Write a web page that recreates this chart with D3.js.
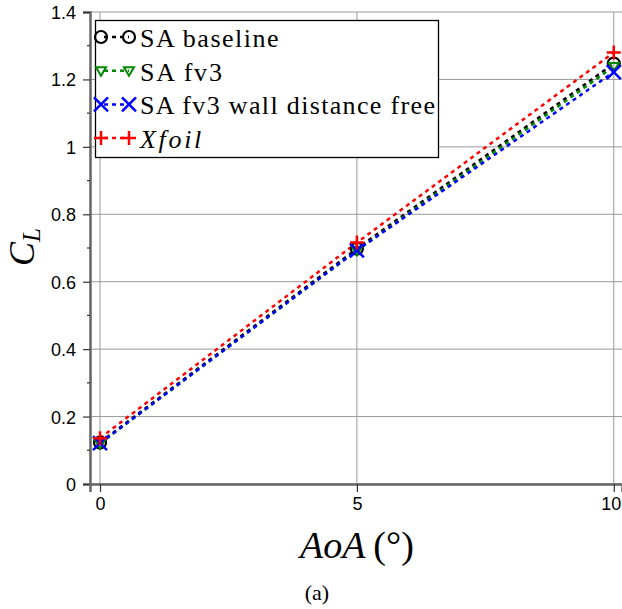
<!DOCTYPE html>
<html>
<head>
<meta charset="utf-8">
<script src="https://cdn.jsdelivr.net/npm/d3@7"></script>
<style>
  body { margin: 0; background: #fff; }
  svg { display: block; }
</style>
</head>
<body>
<div id="chart"></div>
<script>
const aoa = [0, 5, 10];
const saBaseline = [0.123, 0.698, 1.247];
const saFv3 = [0.12, 0.693, 1.238];
const saFv3Wdf = [0.121, 0.693, 1.222];
const xfoil = [0.136, 0.716, 1.28];
const yTicks = [0, 0.2, 0.4, 0.6, 0.8, 1, 1.2, 1.4];
const xTicks = [0, 5, 10];

const series = [
  { name: "SA baseline", values: saBaseline, color: "#000", marker: "circle" },
  { name: "SA fv3", values: saFv3, color: "#008800", marker: "tri" },
  { name: "SA fv3 wall distance free", values: saFv3Wdf, color: "#0000ff", marker: "x" },
  { name: "Xfoil", values: xfoil, color: "#ff0000", marker: "plus", italic: true },
];

const SERIF = "'Liberation Serif', 'Times New Roman', serif";
const SANS = "'Liberation Sans', Arial, sans-serif";

const width = 622, height = 609;
const margin = { top: 12, right: 0, bottom: 125, left: 90 };

const svg = d3.select("#chart").append("svg")
  .attr("width", width).attr("height", height);

const x = d3.scaleLinear().domain([-0.195, 10.16]).range([margin.left, width - margin.right]);
const y = d3.scaleLinear().domain([0, 1.4]).range([height - margin.bottom, margin.top]);

// grid
svg.append("g")
  .selectAll("line")
  .data(yTicks)
  .join("line")
  .attr("x1", margin.left).attr("x2", width)
  .attr("y1", (d) => y(d)).attr("y2", (d) => y(d))
  .attr("stroke", "#999").attr("stroke-width", 1);

svg.append("g")
  .selectAll("line")
  .data(xTicks)
  .join("line")
  .attr("x1", (d) => x(d)).attr("x2", (d) => x(d))
  .attr("y1", y(1.4)).attr("y2", y(0))
  .attr("stroke", "#999").attr("stroke-width", 1);

// axes
const axisY = svg.append("g")
  .attr("transform", `translate(${margin.left},0)`)
  .call(d3.axisLeft(y).tickValues(yTicks).tickSize(7).tickPadding(7)
    .tickFormat((d) => d3.format("~g")(d)));
axisY.select(".domain").attr("stroke", "#666").attr("stroke-width", 2.5);
axisY.selectAll(".tick line").attr("stroke", "#333").attr("stroke-width", 1.2);
axisY.selectAll(".tick text")
  .attr("font-family", SANS).attr("font-size", 18).attr("fill", "#000").attr("dy", "0.36em");

svg.append("g")
  .selectAll("line")
  .data(d3.range(1, 14, 2).map((d) => d / 10))
  .join("line")
  .attr("x1", margin.left - 3).attr("x2", margin.left)
  .attr("y1", (d) => y(d)).attr("y2", (d) => y(d))
  .attr("stroke", "#333").attr("stroke-width", 1.2);

const axisX = svg.append("g")
  .attr("transform", `translate(0,${y(0)})`)
  .call(d3.axisBottom(x).tickValues(xTicks).tickSize(8).tickPadding(5));
axisX.select(".domain").attr("stroke", "#666").attr("stroke-width", 2.5);
axisX.selectAll(".tick line").attr("stroke", "#333").attr("stroke-width", 1.2);
axisX.selectAll(".tick text")
  .attr("font-family", SANS).attr("font-size", 18).attr("fill", "#000")
  .attr("dx", (d) => (d === 10 ? -3 : 0));

// markers
function drawMarker(g, type, cx, cy, color) {
  if (type === "circle") {
    g.append("circle").attr("cx", cx).attr("cy", cy).attr("r", 6)
      .attr("fill", "none").attr("stroke", color).attr("stroke-width", 2.2);
  } else if (type === "tri") {
    g.append("path")
      .attr("d", `M${cx - 5},${cy - 3.5}L${cx + 5},${cy - 3.5}L${cx},${cy + 5}Z`)
      .attr("fill", "none").attr("stroke", color).attr("stroke-width", 2);
  } else if (type === "x") {
    const s = 7;
    g.append("path")
      .attr("d", `M${cx - s},${cy - s}L${cx + s},${cy + s}M${cx - s},${cy + s}L${cx + s},${cy - s}`)
      .attr("stroke", color).attr("stroke-width", 2.5);
  } else {
    const s = 7;
    g.append("path")
      .attr("d", `M${cx - s},${cy}L${cx + s},${cy}M${cx},${cy - s}L${cx},${cy + s}`)
      .attr("stroke", color).attr("stroke-width", 2.5);
  }
}

const line = d3.line().x((d) => x(d[0])).y((d) => y(d[1]));

series.forEach((s) => {
  const pts = aoa.map((a, i) => [a, s.values[i]]);
  svg.append("path")
    .datum(pts)
    .attr("d", line)
    .attr("fill", "none")
    .attr("stroke", s.color)
    .attr("stroke-width", 2.5)
    .attr("stroke-dasharray", "4,4");
});

series.forEach((s) => {
  const g = svg.append("g");
  aoa.forEach((a, i) => drawMarker(g, s.marker, x(a), y(s.values[i]), s.color));
});

// legend
const legend = svg.append("g");
legend.append("rect")
  .attr("x", 95.5).attr("y", 20.5).attr("width", 343).attr("height", 137)
  .attr("fill", "#fff").attr("stroke", "#000").attr("stroke-width", 1.3);

const legendTexts = series.map((s, i) => {
  const cy = 37 + i * 33.7;
  legend.append("line")
    .attr("x1", 101).attr("x2", 129).attr("y1", cy).attr("y2", cy)
    .attr("stroke", s.color).attr("stroke-width", 2.5).attr("stroke-dasharray", "4,4")
    .attr("stroke-dashoffset", -3);
  drawMarker(legend, s.marker, 101, cy, s.color);
  drawMarker(legend, s.marker, 129, cy, s.color);
  return legend.append("text")
    .attr("x", 140).attr("y", cy + 10)
    .attr("font-family", SERIF)
    .attr("font-size", 26)
    .attr("font-style", s.italic ? "italic" : "normal")
    .text(s.name);
});

// widen the serif text to the wider TeX face: longest entry ends near the frame
const widths = legendTexts.map((t) => t.node().getComputedTextLength());
const stretch = 295 / d3.max(widths);
legendTexts.forEach((t, i) => {
  const extra = series[i].italic ? 1.08 : 1;
  t.attr("textLength", widths[i] * stretch * extra).attr("lengthAdjust", "spacing");
});

// axis titles
const yTitle = svg.append("text")
  .attr("transform", "translate(34,266) rotate(-90)")
  .attr("font-family", SERIF)
  .attr("font-size", 36).attr("font-style", "italic");
yTitle.append("tspan").text("C");
yTitle.append("tspan").attr("font-size", 25).attr("dy", 6).text("L");

const xTitle = svg.append("text")
  .attr("x", x(5)).attr("y", 558)
  .attr("text-anchor", "middle")
  .attr("font-family", SERIF)
  .attr("font-size", 38);
xTitle.append("tspan").attr("font-style", "italic").text("AoA");
xTitle.append("tspan").attr("dx", 8).text("(°)");

svg.append("text")
  .attr("x", 317).attr("y", 600)
  .attr("text-anchor", "middle")
  .attr("font-family", SERIF)
  .attr("font-size", 22)
  .text("(a)");
</script>
</body>
</html>
